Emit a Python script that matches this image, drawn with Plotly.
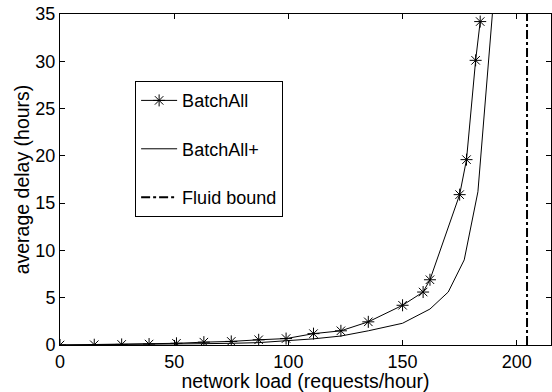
import plotly.graph_objects as go

# BatchAll (with star markers)
batchall_x = [0, 15, 27, 39, 51, 63, 75, 87, 99, 111, 123, 135, 150, 159, 162, 175, 178, 182, 184]
batchall_y = [0, 0.03, 0.06, 0.1, 0.18, 0.3, 0.38, 0.55, 0.68, 1.2, 1.5, 2.45, 4.2, 5.6, 6.9, 15.9, 19.6, 30.1, 34.2]

# BatchAll+ (plain line)
batchallp_x = [0, 15, 27, 39, 51, 63, 75, 87, 99, 111, 123, 135, 150, 162, 170, 177, 183, 190]
batchallp_y = [0, 0.02, 0.04, 0.06, 0.1, 0.14, 0.18, 0.25, 0.45, 0.65, 0.95, 1.5, 2.3, 3.8, 5.6, 9.0, 16.2, 37]

# Fluid bound
fluid_x = [204.5, 204.5]
fluid_y = [0, 35]

x_ticks = [0, 50, 100, 150, 200]
y_ticks = [0, 5, 10, 15, 20, 25, 30, 35]

font = "Liberation Sans, Arial, sans-serif"

fig = go.Figure()
fig.add_trace(go.Scatter(
    x=batchall_x, y=batchall_y, mode="lines+markers", name="BatchAll",
    line=dict(color="black", width=1),
    marker=dict(symbol="asterisk-open", size=10, color="black", line=dict(width=1, color="black")),
    legendgroup="a"))
fig.add_trace(go.Scatter(
    x=batchallp_x, y=batchallp_y, mode="lines", name="BatchAll+",
    line=dict(color="black", width=1), legendgroup="b"))
fig.add_trace(go.Scatter(
    x=fluid_x, y=fluid_y, mode="lines", name="Fluid bound",
    line=dict(color="black", width=2, dash="dashdot"), legendgroup="c"))

axis_common = dict(
    showline=True, linecolor="black", linewidth=1, mirror="ticks",
    ticks="inside", ticklen=5, tickcolor="black", showgrid=False, zeroline=False,
    tickfont=dict(family=font, size=18, color="black"), automargin=False,
)

fig.update_layout(
    width=552, height=392,
    margin=dict(l=60, r=1, t=14, b=47),
    paper_bgcolor="white", plot_bgcolor="white",
    font=dict(family=font, color="black"),
    xaxis=dict(range=[0, 215], tickvals=x_ticks,
               title=dict(text="network load (requests/hour)", font=dict(family=font, size=19.5), standoff=0),
               **axis_common),
    yaxis=dict(range=[0, 35], tickvals=y_ticks,
               title=dict(text="average delay (hours)", font=dict(family=font, size=19.5), standoff=0),
               **axis_common),
    legend=dict(
        x=0.153, y=0.797, xanchor="left", yanchor="top",
        bgcolor="white", bordercolor="black", borderwidth=1,
        font=dict(family=font, size=18, color="black"),
        tracegroupgap=22, itemwidth=36,
    ),
    showlegend=True,
)

fig.write_html(
    "out.html",
    config={"displayModeBar": False},
    post_script="document.body.style.margin='0';document.body.style.overflow='hidden';",
)
